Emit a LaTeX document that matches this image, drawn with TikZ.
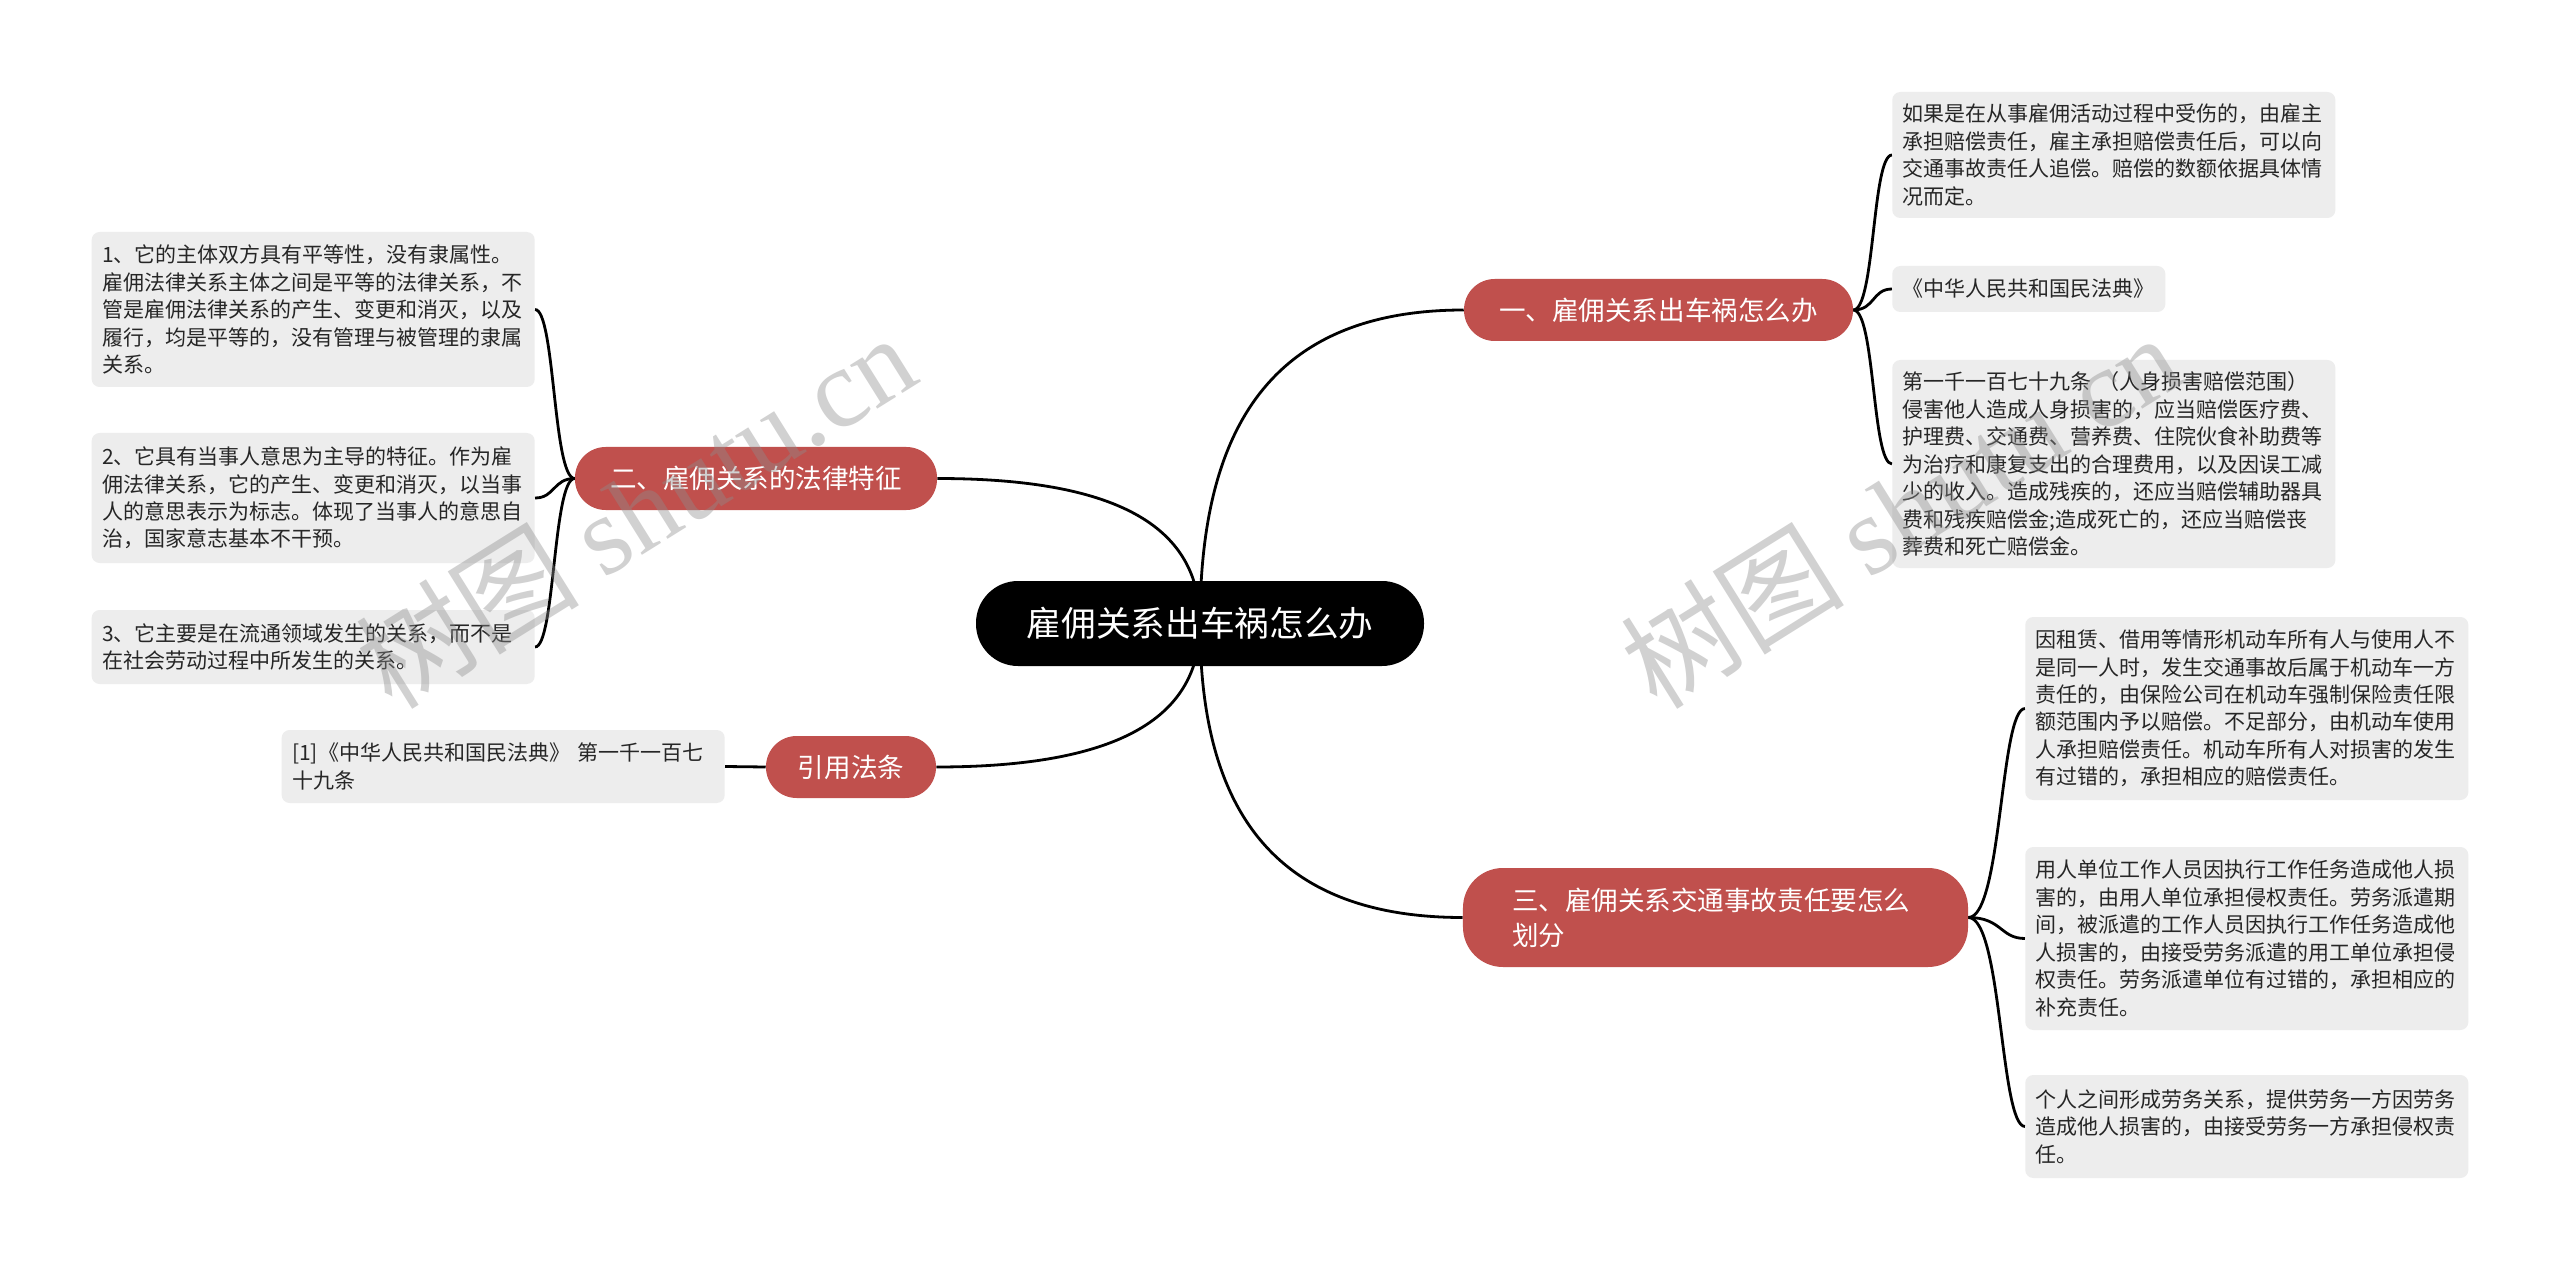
\documentclass[tikz,border=0pt]{standalone}
\usepackage{fontspec}
\setmainfont{Noto Sans CJK SC}
\newfontfamily\wmlatin{Liberation Serif}
\usetikzlibrary{backgrounds}
\definecolor{branchred}{RGB}{192,80,77}
\definecolor{leafgray}{RGB}{237,237,237}
\definecolor{wmgray}{RGB}{140,140,140}
\newcommand\leaffont{\fontsize{15.75pt}{20.6pt}\selectfont}
\newcommand\branchfont{\fontsize{19.9pt}{26.25pt}\selectfont}
\newcommand\rootfont{\fontsize{26pt}{30pt}\selectfont}
\newcommand\wmfont{\fontsize{84pt}{90pt}\selectfont}
\tikzset{
  leafbox/.style={fill=leafgray, rounded corners=6pt, text width=316.5pt,
    inner xsep=7.9pt, inner ysep=0pt, align=left, font=\leaffont, text=black!85},
  shortleaf/.style={fill=leafgray, rounded corners=6pt, inner xsep=7.9pt,
    inner ysep=0pt, font=\leaffont, text=black!85},
  branchbox/.style={fill=branchred, text=white, font=\branchfont,
    inner sep=0pt, rounded corners=23pt},
  rootbox/.style={fill=black, text=white, font=\rootfont, inner sep=0pt,
    minimum width=336pt, minimum height=63.75pt, rounded corners=31.5pt},
  link/.style={draw=black, line width=2.1pt},
  wmark/.style={text=wmgray, opacity=0.4, font=\wmfont, rotate=32, inner sep=0pt}
}
\begin{document}
\begin{tikzpicture}[x=0.75pt,y=-0.75pt]
\useasboundingbox (0,0) rectangle (2560,1269);

% root
\node[rootbox] (root) at (1200,623.5) {雇佣关系出车祸怎么办};

% branches
\node[branchbox, minimum width=291.75pt, minimum height=46.5pt] (b1) at (1658.5,310) {一、雇佣关系出车祸怎么办};
\node[branchbox, minimum width=271.5pt, minimum height=47.25pt] (b2) at (756,478.5) {二、雇佣关系的法律特征};
\node[branchbox, minimum width=127.5pt, minimum height=46.5pt] (b3) at (851,767) {引用法条};
\node[branchbox, text width=305pt, inner xsep=36.9pt, minimum height=74.25pt, align=left, rounded corners=30pt] (b4) at (1715.5,917.5) {三、雇佣关系交通事故责任要怎么\\划分};

% right leaves of b1
\node[leafbox, anchor=west, minimum height=94.5pt] (r1) at (1892,155) {如果是在从事雇佣活动过程中受伤的，由雇主\\承担赔偿责任，雇主承担赔偿责任后，可以向\\交通事故责任人追偿。赔偿的数额依据具体情\\况而定。};
\node[shortleaf, anchor=west, minimum height=34.5pt] (r2) at (1892,289) {《中华人民共和国民法典》};
\node[leafbox, anchor=west, minimum height=156pt] (r3) at (1892,464) {第一千一百七十九条 （人身损害赔偿范围）\\侵害他人造成人身损害的，应当赔偿医疗费、\\护理费、交通费、营养费、住院伙食补助费等\\为治疗和康复支出的合理费用，以及因误工减\\少的收入。造成残疾的，还应当赔偿辅助器具\\费和残疾赔偿金;造成死亡的，还应当赔偿丧\\葬费和死亡赔偿金。};

% right leaves of b4
\node[leafbox, anchor=west, minimum height=137.25pt] (r4) at (2025,708.5) {因租赁、借用等情形机动车所有人与使用人不\\是同一人时，发生交通事故后属于机动车一方\\责任的，由保险公司在机动车强制保险责任限\\额范围内予以赔偿。不足部分，由机动车使用\\人承担赔偿责任。机动车所有人对损害的发生\\有过错的，承担相应的赔偿责任。};
\node[leafbox, anchor=west, minimum height=137.25pt] (r5) at (2025,938.5) {用人单位工作人员因执行工作任务造成他人损\\害的，由用人单位承担侵权责任。劳务派遣期\\间，被派遣的工作人员因执行工作任务造成他\\人损害的，由接受劳务派遣的用工单位承担侵\\权责任。劳务派遣单位有过错的，承担相应的\\补充责任。};
\node[leafbox, anchor=west, minimum height=77.25pt] (r6) at (2025,1126.5) {个人之间形成劳务关系，提供劳务一方因劳务\\造成他人损害的，由接受劳务一方承担侵权责\\任。};

% left leaves of b2
\node[leafbox, anchor=east, minimum height=116.25pt] (l1) at (535,309.5) {1、它的主体双方具有平等性，没有隶属性。\\雇佣法律关系主体之间是平等的法律关系，不\\管是雇佣法律关系的产生、变更和消灭，以及\\履行，均是平等的，没有管理与被管理的隶属\\关系。};
\node[leafbox, anchor=east, minimum height=97.5pt] (l2) at (535,498) {2、它具有当事人意思为主导的特征。作为雇\\佣法律关系，它的产生、变更和消灭，以当事\\人的意思表示为标志。体现了当事人的意思自\\治，国家意志基本不干预。};
\node[leafbox, anchor=east, minimum height=55.5pt] (l3) at (535,647) {3、它主要是在流通领域发生的关系，而不是\\在社会劳动过程中所发生的关系。};

% leaf of b3
\node[leafbox, anchor=east, minimum height=54.75pt] (l4) at (725,766.5) {[1]《中华人民共和国民法典》 第一千一百七\\十九条};

\begin{scope}[on background layer]
  \fill[white] (0,0) rectangle (2560,1269);
  % root to branches
  \draw[link] (root.center) .. controls (1200,435) and (1266,310) .. (b1.west);
  \draw[link] (root.center) .. controls (1200,536) and (1134,478.5) .. (b2.east);
  \draw[link] (root.center) .. controls (1200,709) and (1134,767) .. (b3.east);
  \draw[link] (root.center) .. controls (1200,800) and (1266,917.5) .. (b4.west);
  % b1 to leaves
  \draw[link] (b1.east) .. controls (1875,310) and (1872,155) .. (r1.west);
  \draw[link] (b1.east) .. controls (1875,310) and (1872,289) .. (r2.west);
  \draw[link] (b1.east) .. controls (1875,310) and (1872,464) .. (r3.west);
  % b4 to leaves
  \draw[link] (b4.east) .. controls (2002,917.5) and (2000,708.5) .. (r4.west);
  \draw[link] (b4.east) .. controls (2002,917.5) and (2000,938.5) .. (r5.west);
  \draw[link] (b4.east) .. controls (2002,917.5) and (2000,1126.5) .. (r6.west);
  % b2 to leaves
  \draw[link] (b2.west) .. controls (553,478.5) and (555,309.5) .. (l1.east);
  \draw[link] (b2.west) .. controls (553,478.5) and (555,498) .. (l2.east);
  \draw[link] (b2.west) .. controls (553,478.5) and (555,647) .. (l3.east);
  % b3 to leaf
  \draw[link] (b3.west) -- (l4.east);
\end{scope}

% watermarks
\node[wmark] (wm1) at (635,510) {树图 {\wmlatin shutu.cn}};
\node[wmark] (wm2) at (1900,510) {树图 {\wmlatin shutu.cn}};
\end{tikzpicture}
\end{document}
